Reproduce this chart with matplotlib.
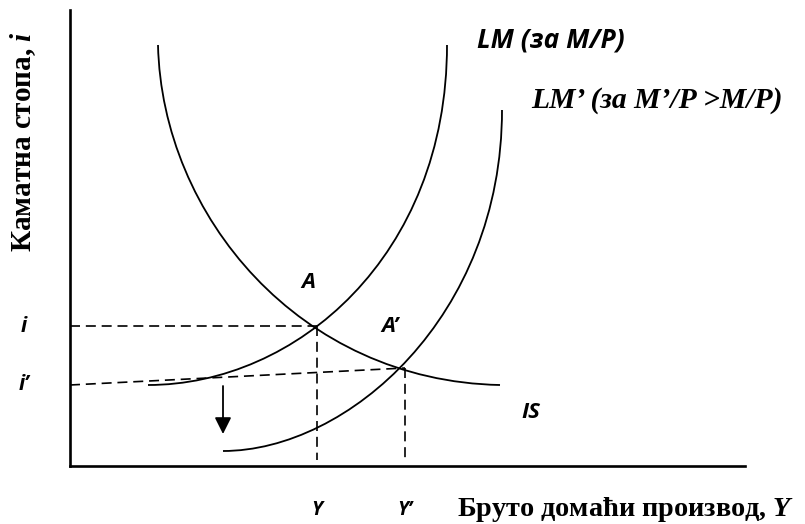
import matplotlib
matplotlib.use("Agg")
import matplotlib.pyplot as plt
from matplotlib.path import Path
from matplotlib.patches import PathPatch

plt.rcParams["mathtext.fontset"] = "custom"
plt.rcParams["mathtext.it"] = "Liberation Serif:bold:italic"
plt.rcParams["mathtext.rm"] = "Liberation Serif:bold"
plt.rcParams["mathtext.bf"] = "Liberation Serif:bold"

# ---- data: cubic Bezier control points of each curve (chart units) ----
is_ctrl_x = [88, 92, 230, 430]
is_ctrl_y = [421, 250, 85, 81]

lm_ctrl_x = [78, 226, 377, 377]
lm_ctrl_y = [81, 81, 210, 421]

lm2_ctrl_x = [153, 278, 432, 432]
lm2_ctrl_y = [15, 15, 150, 356]

point_A = (247, 140)
point_A2 = (335, 98)
i2_at_axis = 81
arrow_x = 153
arrow_from, arrow_to = 80, 32

x_max, y_max = 675, 456

fig = plt.figure(figsize=(8.05, 5.24), dpi=100)
W, H = 805, 524
ax = fig.add_axes([70 / W, (H - 466) / H, x_max / W, y_max / H])
ax.set_xlim(0, x_max)
ax.set_ylim(0, y_max)
for s in ["top", "right"]:
    ax.spines[s].set_visible(False)
for s in ["left", "bottom"]:
    ax.spines[s].set_linewidth(1.9)
ax.set_xticks([])
ax.set_yticks([])

lw = 1.3
codes = [Path.MOVETO, Path.CURVE4, Path.CURVE4, Path.CURVE4]
for cx, cy in [(is_ctrl_x, is_ctrl_y), (lm_ctrl_x, lm_ctrl_y), (lm2_ctrl_x, lm2_ctrl_y)]:
    ax.add_patch(PathPatch(Path(list(zip(cx, cy)), codes), facecolor="none",
                           edgecolor="black", lw=lw, capstyle="butt"))

dash = (0, (6, 3.5))
ax.plot([0, point_A[0]], [point_A[1], point_A[1]], color="black", lw=1.2, linestyle=dash)
ax.plot([point_A[0], point_A[0]], [point_A[1], 6], color="black", lw=1.2, linestyle=dash)
ax.plot([0, point_A2[0]], [i2_at_axis, point_A2[1]], color="black", lw=1.2, linestyle=dash)
ax.plot([point_A2[0], point_A2[0]], [point_A2[1], 6], color="black", lw=1.2, linestyle=dash)

ax.annotate("", xy=(arrow_x, arrow_to), xytext=(arrow_x, arrow_from),
            arrowprops=dict(arrowstyle="-|>,head_length=1.0,head_width=0.5",
                            color="black", lw=1.3, shrinkA=0, shrinkB=0))

sans = ["Open Sans", "DejaVu Sans"]
serif = ["Liberation Serif", "DejaVu Serif"]
sk = dict(family=sans, fontweight="bold", fontstyle="italic", color="black")

ax.text(-46, point_A[1], "i", ha="center", va="center", fontsize=15, clip_on=False, **sk)
ax.text(-46, i2_at_axis, "i\u2019", ha="center", va="center", fontsize=15, clip_on=False, **sk)
ax.text(238, 183, "A", ha="center", va="center", fontsize=16, **sk)
ax.text(320, 139, "A\u2019", ha="center", va="center", fontsize=16, **sk)
ax.text(461, 53, "IS", ha="center", va="center", fontsize=16, **sk)
ax.text(407, 426, "LM (за M/P)", ha="left", va="center", fontsize=19, clip_on=False, **sk)
ax.text(461, 366, "LM\u2019 (за M\u2019/P >M/P)", ha="left", va="center", fontsize=21.3,
        family=serif, fontweight="bold", fontstyle="italic", clip_on=False)

ax.text(point_A[0], -44, "Y", ha="center", va="center", fontsize=14, clip_on=False, **sk)
ax.text(point_A2[0], -44, "Y\u2019", ha="center", va="center", fontsize=14, clip_on=False, **sk)

fig.text(457 / W, 1 - 510 / H, "Бруто домаћи производ, $Y$", ha="left", va="center",
         fontsize=20.3, family=serif, fontweight="bold")
fig.text(23 / W, 1 - 142 / H, "Каматна стопа, $i$", ha="center", va="center",
         fontsize=21, family=serif, fontweight="bold", rotation=90)

fig.savefig("out.png", dpi=100)
